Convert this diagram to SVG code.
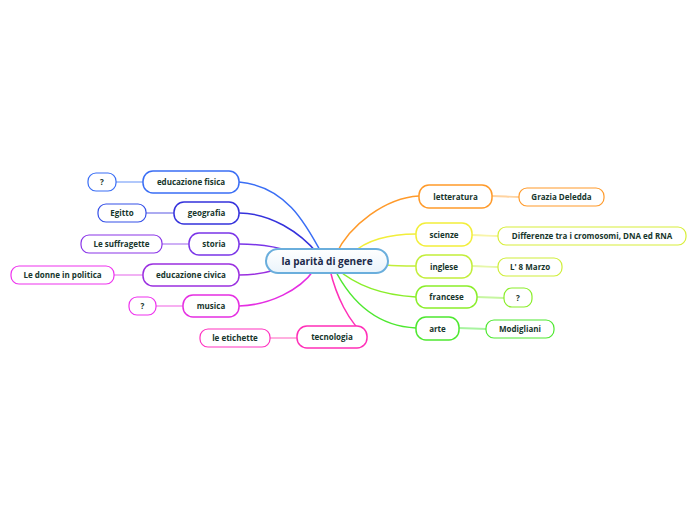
<svg xmlns="http://www.w3.org/2000/svg" width="696" height="520" viewBox="0 0 696 520">
<defs>
<linearGradient id="gMain" x1="0" y1="0" x2="0" y2="1">
<stop offset="0" stop-color="#ffffff"/><stop offset="1" stop-color="#eaf3fb"/>
</linearGradient>
</defs>
<style>
.n rect{fill:#fff;stroke-width:1.5}
.g rect{fill:#fff;stroke-width:1.2}
text{font-family:"Open Sans","DejaVu Sans",sans-serif;font-size:8px;font-weight:700;fill:#17362c;text-anchor:middle}
.main text{font-size:10px;font-weight:700;fill:#1b2a4a}
#conn path{fill:none;stroke-width:1.5}
#conn .s{stroke-width:1.8}
</style>
<rect width="696" height="520" fill="#fff"/>
<g id="conn">
<path d="M239,182 C285,186 305,222 322,254" stroke="#3a6ef5"/>
<path d="M239,213 C270,213 300,232 318,254" stroke="#3532dc"/>
<path d="M239,244 C260,244 275,246 292,252" stroke="#7a35e8"/>
<path d="M239,275 C255,275 265,273 275,270" stroke="#9a2fe0"/>
<path d="M239,306 C270,305 300,290 314,270" stroke="#e52ee2"/>
<path d="M367,337 C348,322 336,295 330,270" stroke="#ff2fb8"/>
<path d="M419,196 C385,198 350,225 336,254" stroke="#ff9a2a"/>
<path d="M416,234 C390,234 365,240 352,254" stroke="#f2ee3a"/>
<path d="M416,266 C405,266 395,266 386,265" stroke="#c2ee3a"/>
<path d="M416,297 C380,295 355,285 336,268" stroke="#8aee2a"/>
<path d="M416,328 C375,326 350,300 334,268" stroke="#4ee830"/>
<path class="s" d="M116,182 L143,182" stroke="#a9c2fb"/>
<path class="s" d="M146,213 L174,213" stroke="#a3a2f0"/>
<path class="s" d="M162,244 L189,244" stroke="#c9a7f5"/>
<path class="s" d="M114,275 L143,275" stroke="#f0a9f3"/>
<path class="s" d="M156,306 L183,306" stroke="#f6a6f0"/>
<path class="s" d="M270,338 L297,338" stroke="#ffa6dc"/>
<path class="s" d="M492,196 C505,196 507,197 519,197" stroke="#ffd3a0"/>
<path class="s" d="M472,235 C485,235 487,236 498,236" stroke="#f8f5a8"/>
<path class="s" d="M472,266 C485,266 487,267 498,267" stroke="#e6f7a8"/>
<path class="s" d="M477,297 C490,297 492,298 504,298" stroke="#c6f6a0"/>
<path class="s" d="M459,328 C472,328 474,329 486,329" stroke="#a8f4a0"/>
</g>
<g id="main" class="main"><rect x="266" y="249" width="122" height="24" rx="12" fill="url(#gMain)" stroke="#6aaedc" stroke-width="2"/><text x="327" y="264.5">la parità di genere</text></g>
<g id="edfis" class="n"><rect x="143" y="171" width="96" height="22" rx="10" stroke="#3a6ef5"/><text x="191" y="185">educazione fisica</text></g>
<g id="geog" class="n"><rect x="174" y="202" width="65" height="22" rx="10" stroke="#3532dc"/><text x="206.5" y="216">geografia</text></g>
<g id="storia" class="n"><rect x="189" y="233" width="50" height="22" rx="10" stroke="#7a35e8"/><text x="214" y="247">storia</text></g>
<g id="edciv" class="n"><rect x="143" y="264" width="96" height="22" rx="10" stroke="#9a2fe0"/><text x="191" y="278">educazione civica</text></g>
<g id="musica" class="n"><rect x="183" y="295" width="56" height="22" rx="10" stroke="#e52ee2"/><text x="211" y="309">musica</text></g>
<g id="tecno" class="n"><rect x="297" y="326" width="70" height="22" rx="10" stroke="#ff2fb8"/><text x="332" y="340">tecnologia</text></g>
<g id="q1" class="g"><rect x="88" y="173" width="28" height="18" rx="8" stroke="#3a6ef5"/><text x="102" y="185">?</text></g>
<g id="egitto" class="g"><rect x="98" y="204" width="48" height="18" rx="8" stroke="#3550e8"/><text x="122" y="216">Egitto</text></g>
<g id="suffr" class="g"><rect x="81" y="235" width="81" height="18" rx="8" stroke="#8a35e8"/><text x="121.5" y="247">Le suffragette</text></g>
<g id="donne" class="g"><rect x="11" y="266" width="103" height="18" rx="8" stroke="#ee33ee"/><text x="62.5" y="278">Le donne in politica</text></g>
<g id="q2" class="g"><rect x="129" y="297" width="27" height="18" rx="8" stroke="#ee33ee"/><text x="142.5" y="309">?</text></g>
<g id="etich" class="g"><rect x="200" y="329" width="70" height="18" rx="8" stroke="#ff33c0"/><text x="235" y="341">le etichette</text></g>
<g id="lett" class="n"><rect x="419" y="185" width="73" height="23" rx="10" stroke="#ff9a2a"/><text x="455.5" y="199.5">letteratura</text></g>
<g id="scienze" class="n"><rect x="416" y="223" width="56" height="23" rx="10" stroke="#f2ee3a"/><text x="444" y="237.5">scienze</text></g>
<g id="inglese" class="n"><rect x="416" y="255" width="56" height="23" rx="10" stroke="#c2ee3a"/><text x="444" y="269.5">inglese</text></g>
<g id="francese" class="n"><rect x="416" y="286" width="61" height="22" rx="10" stroke="#8aee2a"/><text x="446.5" y="300">francese</text></g>
<g id="arte" class="n"><rect x="416" y="317" width="43" height="23" rx="10" stroke="#4ee830"/><text x="437.5" y="331.5">arte</text></g>
<g id="grazia" class="g"><rect x="519" y="188" width="85" height="18" rx="8" stroke="#ff9a2a"/><text x="561.5" y="200">Grazia Deledda</text></g>
<g id="diff" class="g"><rect x="498" y="227" width="188" height="18" rx="8" stroke="#d8ee3a"/><text x="592" y="239">Differenze tra i cromosomi, DNA ed RNA</text></g>
<g id="marzo" class="g"><rect x="498" y="258" width="64" height="18" rx="8" stroke="#cfee3a"/><text x="530" y="270">L' 8 Marzo</text></g>
<g id="q3" class="g"><rect x="504" y="288" width="28" height="19" rx="8" stroke="#8aee2a"/><text x="518" y="300.5">?</text></g>
<g id="modi" class="g"><rect x="486" y="320" width="68" height="18" rx="8" stroke="#4ee830"/><text x="520" y="332">Modigliani</text></g>
</svg>
